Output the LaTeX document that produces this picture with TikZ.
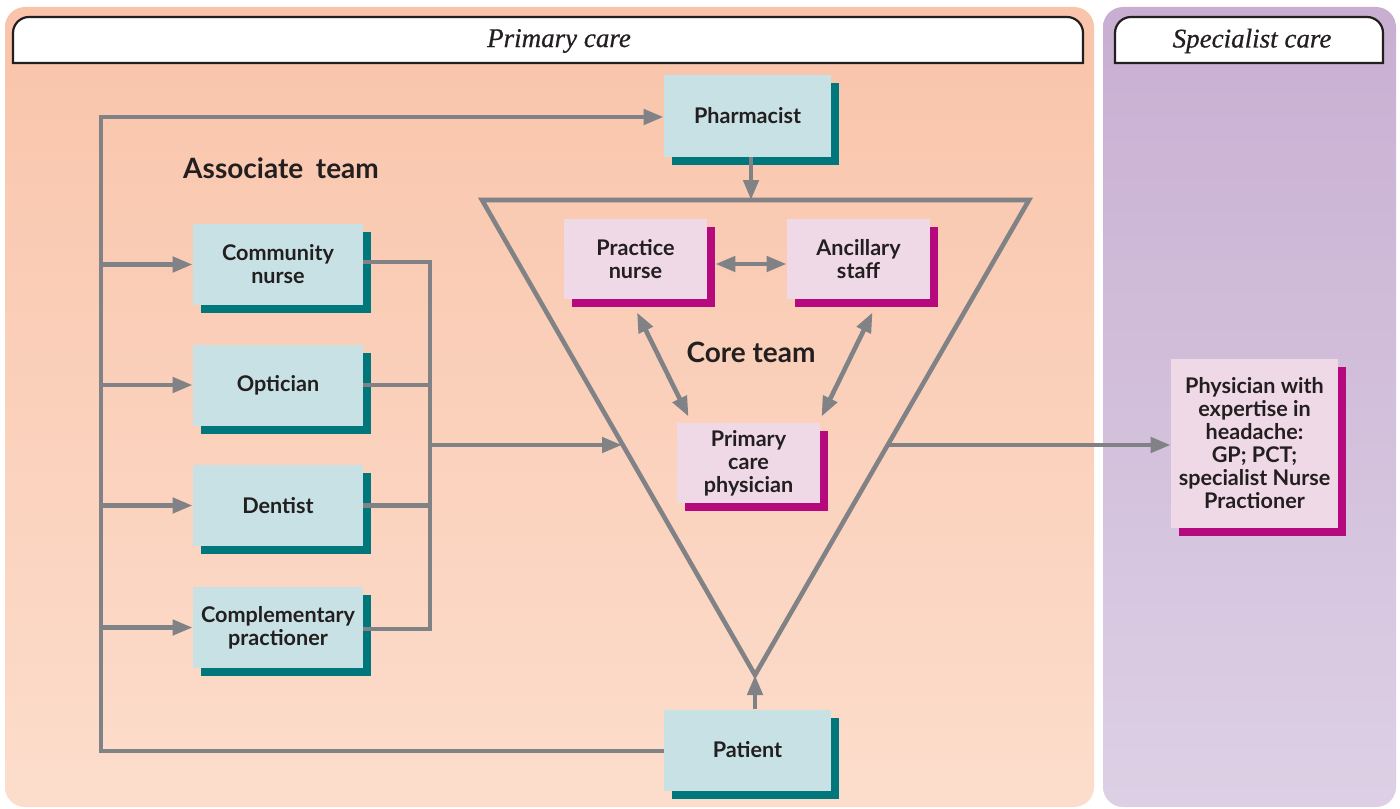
\documentclass[tikz,border=0pt]{standalone}
\usepackage{fontspec}
\setmainfont{Liberation Serif}
\newfontfamily\hdrfont[FakeBold=0.6]{Liberation Serif}
\newfontfamily\boxfont{Lato}
\usetikzlibrary{shadows,arrows.meta}
\definecolor{tealfill}{HTML}{C8E1E4}
\definecolor{tealdark}{HTML}{00777A}
\definecolor{pinkfill}{HTML}{F0D9E6}
\definecolor{magdark}{HTML}{B5097D}
\definecolor{conngray}{HTML}{808285}
\definecolor{inkc}{HTML}{231F20}
\definecolor{pctop}{HTML}{F9C4AA}
\definecolor{pcbot}{HTML}{FCDDCC}
\definecolor{sctop}{HTML}{C8AFD2}
\definecolor{scbot}{HTML}{DDD0E5}
\tikzset{
  boxbase/.style={rectangle, align=center, text=inkc, inner sep=2pt,
    font=\boxfont\bfseries\fontsize{10.8}{11.5}\selectfont},
  tealbox/.style={boxbase, fill=tealfill, minimum width=85pt, minimum height=40.5pt,
    general shadow={shadow xshift=4pt, shadow yshift=-4pt, fill=tealdark}},
  pinkbox/.style={boxbase, fill=pinkfill, minimum width=71.5pt, minimum height=40pt,
    general shadow={shadow xshift=4pt, shadow yshift=-4pt, fill=magdark}},
  conn/.style={draw=conngray, line width=2.3pt},
  arr/.style={conn, -{Triangle[length=10pt,width=7.5pt]}},
  darr/.style={conn, {Triangle[length=10pt,width=7.5pt]}-{Triangle[length=10pt,width=7.5pt]}},
  hdr/.style={draw=inkc, fill=white, line width=1.1pt},
  hdrtext/.style={font=\hdrfont\itshape\fontsize{13.5}{15}\selectfont, text=inkc},
  teamlabel/.style={font=\boxfont\bfseries\fontsize{14}{16}\selectfont, text=inkc}
}
\begin{document}
\begin{tikzpicture}[x=0.5pt,y=-0.5pt]
\useasboundingbox (0,0) rectangle (1400,808);
\fill[white] (0,0) rectangle (1400,808);
% panels
\shade[top color=pctop, bottom color=pcbot, rounded corners=10pt] (5,7) rectangle (1094,807);
\shade[top color=sctop, bottom color=scbot, rounded corners=10pt] (1103,7) rectangle (1396,807);
% headers
\draw[hdr] (13,63) [rounded corners=8pt] -- (13,17) -- (1083,17) [sharp corners] -- (1083,63) -- cycle;
\draw[hdr] (1115,63) [rounded corners=8pt] -- (1115,17) -- (1383,17) [sharp corners] -- (1383,63) -- cycle;
\node[hdrtext] (hpc) at (559,41) {Primary care};
\node[hdrtext] (hsc) at (1252,41) {Specialist care};
% labels
\node[teamlabel] (assoc) at (281,168) {Associate\hspace{0.45em}team};
\node[teamlabel] (core) at (751,352) {Core team};
% triangle
\coordinate (tA) at (482,200);
\coordinate (tB) at (1029,200);
\coordinate (tC) at (755,675);
\draw[conn, line join=miter] (tA) -- (tB) -- (tC) -- cycle;
\coordinate (triL) at (622,445);
\coordinate (triR) at (888,445);
% nodes
\node[tealbox, minimum width=83.5pt] (pharm) at (747.5,116) {Pharmacist};
\node[tealbox] (comm) at (278,264.5) {Community\\nurse};
\node[tealbox] (opt) at (278,385) {Optician};
\node[tealbox] (dent) at (278,505.5) {Dentist};
\node[tealbox] (comp) at (278,627.5) {Complementary\\practioner};
\node[tealbox, minimum width=83.5pt] (pat) at (747.5,750) {Patient};
\node[pinkbox] (pn) at (635.5,259) {Practice\\nurse};
\node[pinkbox] (anc) at (858.5,259) {Ancillary\\staff};
\node[pinkbox] (pcp) at (748.5,463) {Primary\\care\\physician};
\node[pinkbox, minimum width=83.5pt, minimum height=84.5pt] (phys) at (1254.5,443.5)
  {Physician with\\expertise in\\headache:\\GP; PCT;\\specialist Nurse\\Practioner};
% spine
\coordinate (spT) at (101,117);
\coordinate (spB) at (101,751);
\draw[arr, line join=miter] (pat.west |- spB) -- (spB) -- (spT) -- (pharm.west |- spT);
\draw[arr] (spT |- comm.west) -- (comm.west);
\draw[arr] (spT |- opt.west) -- (opt.west);
\draw[arr] (spT |- dent.west) -- (dent.west);
\draw[arr] (spT |- comp.west) -- (comp.west);
% bus
\coordinate (busT) at (430,262);
\coordinate (busB) at (430,629);
\coordinate (busM) at (430,445);
\draw[conn, line join=miter] (comm.east |- busT) -- (busT) -- (busB) -- (comp.east |- busB);
\draw[conn] (opt.east) -- (busT |- opt.east);
\draw[conn] (dent.east) -- (busT |- dent.east);
\draw[arr] (busM) -- (triL);
% other connectors
\draw[arr] (pharm.south -| 751,0) -- (tA -| 751,0);
\draw[arr] (pat.north -| tC) -- (tC);
\draw[darr] ([xshift=4pt]pn.east |- 0,264) -- (anc.west |- 0,264);
\draw[darr] ([xshift=0.75pt,yshift=-6.5pt]pn.south) -- ([xshift=-30pt,yshift=3pt]pcp.north);
\draw[darr] ([xshift=7pt,yshift=-6.5pt]anc.south) -- ([xshift=36.5pt,yshift=3pt]pcp.north);
\draw[arr] (triR) -- (phys.west |- triR);
\end{tikzpicture}
\end{document}
